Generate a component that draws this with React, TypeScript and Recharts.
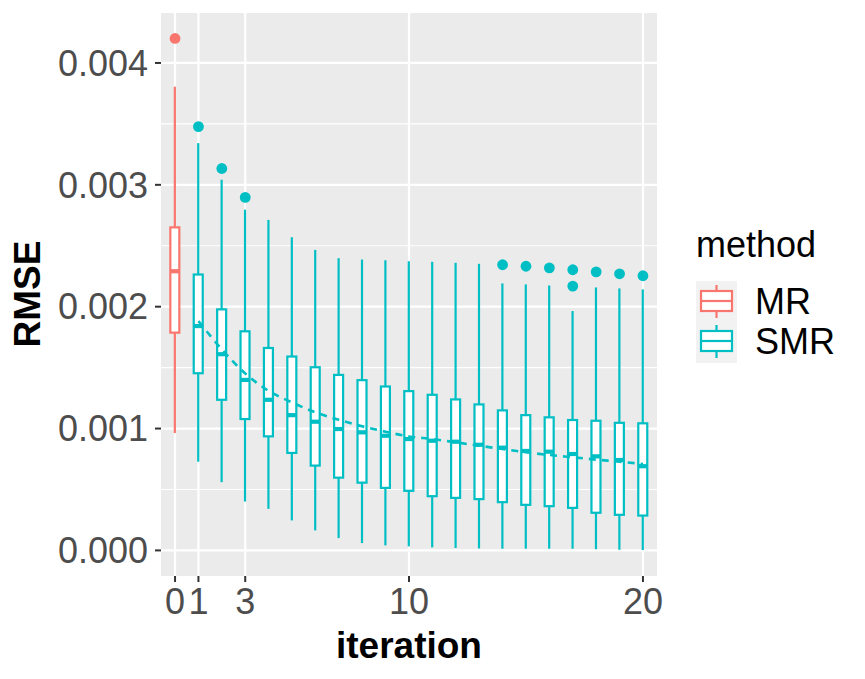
import {
  Bar,
  CartesianGrid,
  ComposedChart,
  Legend,
  Line,
  Scatter,
  XAxis,
  YAxis,
} from "recharts"

const FONT = "'Liberation Sans', Arial, Helvetica, sans-serif"

const methods = ["MR", "SMR"]
const methodColors = ["#F8766D", "#00BFC4"]

// MR is a single box at iteration 0
const mrIteration = 0
const mrStats = { lo: 0.000963, q1: 0.001787, med: 0.002291, q3: 0.002651, hi: 0.003805 }

const iterations = [1, 2, 3, 4, 5, 6, 7, 8, 9, 10, 11, 12, 13, 14, 15, 16, 17, 18, 19, 20]
const smrLow = [
  0.000728, 0.00056, 0.000401, 0.000341, 0.000246, 0.000164, 0.000101, 0.00006, 0.000041, 0.000033,
  0.000025, 0.00002, 0.000016, 0.000014, 0.000014, 0.000014, 0.000014, 0.00001, 0.000005, 0.000003,
]
const smrQ1 = [
  0.001454, 0.001236, 0.001078, 0.000936, 0.0008, 0.000696, 0.000597, 0.000556, 0.000513, 0.000489,
  0.000445, 0.000431, 0.000421, 0.000396, 0.000374, 0.000363, 0.000349, 0.000309, 0.000292, 0.000286,
]
const smrMedian = [
  0.001841, 0.00161, 0.001399, 0.001236, 0.00111, 0.001056, 0.000996, 0.000969, 0.000941, 0.000914,
  0.0009, 0.000892, 0.000867, 0.000843, 0.000816, 0.00081, 0.000791, 0.000772, 0.000742, 0.000691,
]
const smrQ3 = [
  0.002264, 0.001978, 0.001798, 0.001661, 0.001591, 0.001503, 0.00144, 0.001397, 0.001345, 0.001307,
  0.001277, 0.001239, 0.001198, 0.001149, 0.00111, 0.001092, 0.00107, 0.001064, 0.001047, 0.001043,
]
const smrHigh = [
  0.003342, 0.003042, 0.002796, 0.002712, 0.00257, 0.002466, 0.002398, 0.002387, 0.002381, 0.002373,
  0.002368, 0.00236, 0.002352, 0.002191, 0.002183, 0.002174, 0.001964, 0.002158, 0.00215, 0.002142,
]
// dashed trend line
const smrMean = [
  0.001882, 0.00165, 0.001452, 0.001309, 0.001214, 0.001133, 0.001072, 0.001018, 0.000974, 0.000935,
  0.000914, 0.000887, 0.000859, 0.000832, 0.000805, 0.000783, 0.000764, 0.000745, 0.000728, 0.000709,
]

const mrOutlierIter = [0]
const mrOutlierValue = [0.004201]
const smrOutlierIter = [1, 2, 3, 14, 15, 16, 17, 17, 18, 19, 20]
const smrOutlierValue = [
  0.003478, 0.003134, 0.002897, 0.002344, 0.002332, 0.002319, 0.002303, 0.002169, 0.002286, 0.00227,
  0.002254,
]

const xTicks = [0, 1, 3, 10, 20]
const yTicks = [0, 0.001, 0.002, 0.003, 0.004]
const yMinor = [0.0005, 0.0015, 0.0025, 0.0035]

const boxes = [
  { iteration: mrIteration, method: 0, ...mrStats },
  ...iterations.map((it, i) => ({
    iteration: it,
    method: 1,
    lo: smrLow[i],
    q1: smrQ1[i],
    med: smrMedian[i],
    q3: smrQ3[i],
    hi: smrHigh[i],
  })),
]
const meanData = iterations.map((it, i) => ({ iteration: it, value: smrMean[i] }))
const mrOutliers = mrOutlierIter.map((it, i) => ({ iteration: it, value: mrOutlierValue[i] }))
const smrOutliers = smrOutlierIter.map((it, i) => ({ iteration: it, value: smrOutlierValue[i] }))

function BoxShape(props: any) {
  const { x, y, width, height, payload } = props
  if (!payload) return null
  const top = y + Math.min(0, height)
  const h = Math.abs(height)
  const { lo, q1, med, q3, hi } = payload
  const py = (v: number) => top + ((hi - v) / (hi - lo)) * h
  const color = methodColors[payload.method]
  const cx = x + width / 2
  return (
    <g>
      <line x1={cx} x2={cx} y1={py(hi)} y2={py(q3)} stroke={color} strokeWidth={2.2} />
      <line x1={cx} x2={cx} y1={py(q1)} y2={py(lo)} stroke={color} strokeWidth={2.2} />
      <rect x={x + 1} y={py(q3)} width={width - 2} height={py(q1) - py(q3)} fill="#fff" stroke={color} strokeWidth={2.2} />
      <line x1={x + 1} x2={x + width - 1} y1={py(med)} y2={py(med)} stroke={color} strokeWidth={4.2} />
    </g>
  )
}

function LegendBox() {
  return (
    <svg width={170} height={150} style={{ display: "block" }}>
      <text x={6} y={35} fontSize={36} fontFamily={FONT} fill="#000">
        method
      </text>
      <rect x={6} y={59} width={41} height={82} fill="#F2F2F2" />
      {methods.map((m, i) => {
        const c = 79 + i * 40
        return (
          <g key={m}>
            <line x1={26.5} x2={26.5} y1={c - 16} y2={c + 17} stroke={methodColors[i]} strokeWidth={2.2} />
            <rect x={11} y={c - 10} width={31} height={20} fill="#fff" stroke={methodColors[i]} strokeWidth={2.2} />
            <line x1={11} x2={42} y1={c} y2={c} stroke={methodColors[i]} strokeWidth={2.2} />
            <text x={65} y={c + 13} fontSize={36} fontFamily={FONT} fill="#000">
              {m}
            </text>
          </g>
        )
      })}
    </svg>
  )
}

export default function App() {
  const tickStyle = { fill: "#4D4D4D", fontSize: 36, fontFamily: FONT }
  return (
    <div style={{ position: "absolute", left: 0, top: 0, width: 865, height: 679, background: "#fff" }}>
      <ComposedChart width={865} height={679} data={boxes} margin={{ top: 13, right: 208, bottom: 0, left: 0 }}>
        <CartesianGrid fill="#EBEBEB" stroke="#fff" strokeWidth={1.1} vertical={false} horizontalValues={yMinor} />
        <CartesianGrid fill="none" stroke="#fff" strokeWidth={2.2} horizontalValues={yTicks} verticalValues={xTicks} />
        <XAxis
          type="number"
          dataKey="iteration"
          domain={[-0.6, 20.6]}
          ticks={xTicks}
          interval={0}
          height={103}
          axisLine={false}
          tickLine={{ stroke: "#333", strokeWidth: 2 }}
          tickSize={6}
          tickMargin={6}
          tick={tickStyle}
          label={({ viewBox }: any) => (
            <text
              x={viewBox.x + viewBox.width / 2}
              y={viewBox.y + 82}
              textAnchor="middle"
              fontSize={37}
              fontWeight="bold"
              fontFamily={FONT}
              fill="#000"
            >
              iteration
            </text>
          )}
        />
        <YAxis
          type="number"
          domain={[-0.00021, 0.00441]}
          ticks={yTicks}
          interval={0}
          width={161}
          axisLine={false}
          tickLine={{ stroke: "#333", strokeWidth: 2 }}
          tickSize={6}
          tickMargin={7}
          tick={tickStyle}
          tickFormatter={(v) => v.toFixed(3)}
          label={() => (
            <text
              x={40}
              y={294}
              transform="rotate(-90, 40, 294)"
              textAnchor="middle"
              fontSize={37}
              fontWeight="bold"
              fontFamily={FONT}
              fill="#000"
            >
              RMSE
            </text>
          )}
        />
        <Bar dataKey={(d: any) => [d.lo, d.hi]} barSize={11} shape={<BoxShape />} isAnimationActive={false} />
        <Line
          data={meanData}
          dataKey="value"
          type="monotone"
          stroke={methodColors[1]}
          strokeWidth={2.6}
          strokeDasharray="7 6"
          dot={false}
          activeDot={false}
          isAnimationActive={false}
        />
        <Scatter data={mrOutliers} dataKey="value" fill={methodColors[0]} shape={(p: any) => <circle cx={p.cx} cy={p.cy} r={5.4} fill={methodColors[0]} />} isAnimationActive={false} />
        <Scatter data={smrOutliers} dataKey="value" fill={methodColors[1]} shape={(p: any) => <circle cx={p.cx} cy={p.cy} r={5.4} fill={methodColors[1]} />} isAnimationActive={false} />
        <Legend
          layout="vertical"
          align="center"
          verticalAlign="middle"
          content={() => <LegendBox />}
          wrapperStyle={{ left: 690, top: 222, width: 170, height: 150 }}
        />
      </ComposedChart>
    </div>
  )
}
